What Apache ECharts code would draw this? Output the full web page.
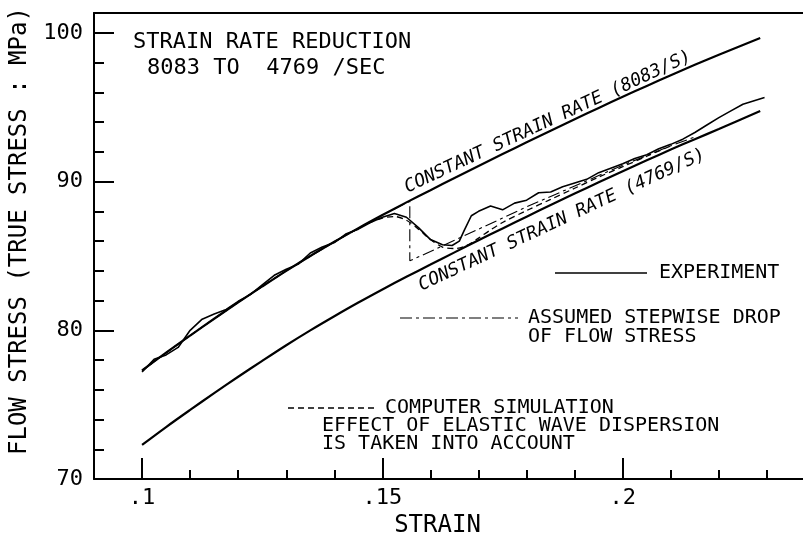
<!DOCTYPE html>
<html><head><meta charset="utf-8">
<script src="https://cdn.jsdelivr.net/npm/echarts@6/dist/echarts.min.js"></script>
<style>html,body{margin:0;padding:0;background:#fff}#c{width:803px;height:543px}</style>
</head><body><div id="c"></div>
<script>
// ---- data ----
const strainCurve = [0.100,0.105,0.110,0.115,0.120,0.125,0.130,0.135,0.140,0.145,0.150,0.155,0.160,0.165,0.170,0.175,0.180,0.185,0.190,0.195,0.200,0.205,0.210,0.215,0.220,0.2286];
const stressUpper = [77.3,78.5,79.65,80.78,81.88,82.95,84.0,85.0,85.95,86.87,87.75,88.6,89.42,90.24,91.05,91.85,92.64,93.42,94.19,94.95,95.7,96.43,97.15,97.85,98.53,99.65];
const stressLower = [72.3,73.5,74.65,75.78,76.88,77.95,79.0,80.0,80.95,81.87,82.75,83.6,84.42,85.24,86.05,86.85,87.64,88.42,89.19,89.95,90.7,91.43,92.15,92.85,93.53,94.75];

const strainExp = [0.1000,0.1025,0.1050,0.1075,0.1100,0.1125,0.1150,0.1175,0.1200,0.1225,0.1250,0.1275,0.1300,0.1325,0.1350,0.1375,0.1400,0.1425,0.1450,0.1475,0.1500,0.1525,0.1550,0.1575,0.1600,0.1625,0.1645,0.1660,0.1670,0.1685,0.1700,0.1725,0.1750,0.1775,0.1800,0.1825,0.1850,0.1875,0.1900,0.1925,0.1950,0.1975,0.2000,0.2025,0.2050,0.2075,0.2100,0.2125,0.2150,0.2175,0.2200,0.2225,0.2250,0.2275,0.2295];
const stressExp = [77.2,78.05,78.35,78.85,80.0,80.75,81.1,81.4,81.95,82.4,83.05,83.7,84.1,84.45,85.2,85.6,85.9,86.5,86.8,87.25,87.6,87.85,87.6,86.9,86.1,85.75,85.7,86.0,86.7,87.7,88.0,88.35,88.1,88.55,88.75,89.25,89.3,89.65,89.9,90.15,90.6,90.9,91.2,91.55,91.8,92.2,92.5,92.85,93.3,93.8,94.3,94.75,95.2,95.45,95.65];

const strainDrop = [0.100,0.110,0.120,0.130,0.140,0.150,0.1557,0.1557,0.160,0.165,0.170,0.175,0.180,0.185,0.190,0.195,0.200,0.205,0.210,0.215];
const stressDrop = [77.3,79.65,81.88,84.0,85.95,87.75,88.67,84.67,85.3,86.05,86.8,87.55,88.3,89.0,89.7,90.4,91.1,91.75,92.4,93.0];

const strainSim = [0.100,0.110,0.120,0.130,0.140,0.145,0.1475,0.150,0.1525,0.155,0.1575,0.160,0.1625,0.165,0.1675,0.170,0.1725,0.175,0.180,0.185,0.190,0.195,0.200,0.205,0.210];
const stressSim = [77.3,79.65,81.88,84.0,85.95,86.85,87.25,87.55,87.65,87.4,86.8,86.1,85.6,85.5,85.7,86.2,86.75,87.25,88.05,88.8,89.55,90.3,91.0,91.7,92.4];

const xMajorTicks = [0.1, 0.15, 0.2];
const xMajorLabels = ['.1', '.15', '.2'];
const xMinorTicks = [0.11,0.12,0.13,0.14,0.16,0.17,0.18,0.19,0.21,0.22,0.23];
const yMajorTicks = [70, 80, 90, 100];
const yMinorTicks = [72,74,76,78,82,84,86,88,92,94,96,98];

// ---- chart ----
const FONT = '"DejaVu Sans Mono", "Liberation Mono", monospace';
const XMIN = 0.09, XMAX = 0.2375, YMIN = 70, YMAX = 101.33;
const pairs = (xs, ys) => xs.map((x, i) => [x, ys[i]]);
const chart = echarts.init(document.getElementById('c'), null, {renderer: 'canvas'});

const baseAxis = {type: 'value', splitLine: {show: false}};
const lineSeries = (name, xs, ys, width, dash, smooth) => ({
  name, type: 'line', data: pairs(xs, ys), showSymbol: false, symbol: 'none',
  smooth: smooth || false, silent: true,
  lineStyle: {color: '#000', width, type: dash || 'solid'}
});

chart.setOption({
  animation: false,
  backgroundColor: '#fff',
  grid: {left: 91, right: 0, top: 13, bottom: 60},
  xAxis: [
    Object.assign({}, baseAxis, {
      min: XMIN, max: XMAX, position: 'bottom',
      axisLine: {show: true, lineStyle: {color: '#000', width: 2}},
      axisTick: {show: true, inside: true, length: 21, customValues: xMajorTicks, lineStyle: {color: '#000', width: 2}},
      axisLabel: {show: true, customValues: xMajorTicks, margin: 8, color: '#000', fontSize: 22, fontFamily: FONT,
        formatter: v => { const i = xMajorTicks.findIndex(t => Math.abs(t - v) < 1e-9); return i >= 0 ? xMajorLabels[i] : ''; }},
      name: 'STRAIN', nameLocation: 'middle', nameGap: 28,
      nameTextStyle: {color: '#000', fontSize: 24, fontFamily: FONT, padding: [0, 22, 0, 0]}
    }),
    Object.assign({}, baseAxis, {
      min: XMIN, max: XMAX, position: 'bottom',
      axisLine: {show: false},
      axisTick: {show: true, inside: true, length: 9, customValues: xMinorTicks, lineStyle: {color: '#000', width: 2}},
      axisLabel: {show: false}
    }),
    Object.assign({}, baseAxis, {
      min: XMIN, max: XMAX, position: 'top',
      axisLine: {show: true, lineStyle: {color: '#000', width: 2}},
      axisTick: {show: false}, axisLabel: {show: false}
    })
  ],
  yAxis: [
    Object.assign({}, baseAxis, {
      min: YMIN, max: YMAX, position: 'left',
      axisLine: {show: true, lineStyle: {color: '#000', width: 2}},
      axisTick: {show: true, inside: true, length: 20, customValues: yMajorTicks, lineStyle: {color: '#000', width: 2}},
      axisLabel: {show: true, customValues: yMajorTicks, margin: 11, color: '#000', fontSize: 22, fontFamily: FONT},
      name: 'FLOW STRESS (TRUE STRESS : MPa)', nameLocation: 'middle', nameGap: 62, nameRotate: 90,
      nameTextStyle: {color: '#000', fontSize: 24, fontFamily: FONT, padding: [0, 0, 0, 30]}
    }),
    Object.assign({}, baseAxis, {
      min: YMIN, max: YMAX, position: 'left',
      axisLine: {show: false},
      axisTick: {show: true, inside: true, length: 10, customValues: yMinorTicks, lineStyle: {color: '#000', width: 2}},
      axisLabel: {show: false}
    })
  ],
  series: [
    lineSeries('COMPUTER SIMULATION', strainSim, stressSim, 1.3, [6, 4], 0.3),
    lineSeries('ASSUMED STEPWISE DROP OF FLOW STRESS', strainDrop, stressDrop, 1.1, [12, 4, 3, 4], false),
    lineSeries('EXPERIMENT', strainExp, stressExp, 1.6, 'solid', false),
    lineSeries('CONSTANT STRAIN RATE (8083/S)', strainCurve, stressUpper, 2.2, 'solid', 0.3),
    lineSeries('CONSTANT STRAIN RATE (4769/S)', strainCurve, stressLower, 2.2, 'solid', 0.3)
  ],
  graphic: [
    {type: 'text', x: 133, y: 42, style: {text: 'STRAIN RATE REDUCTION', font: '22px ' + FONT, fill: '#000', align: 'left', verticalAlign: 'middle'}},
    {type: 'text', x: 147, y: 68, style: {text: '8083 TO  4769 /SEC', font: '22px ' + FONT, fill: '#000', align: 'left', verticalAlign: 'middle'}},
    {type: 'text', x: 548, y: 122, rotation: 25 * Math.PI / 180, style: {text: 'CONSTANT STRAIN RATE (8083/S)', font: 'italic 18px ' + FONT, fill: '#000', align: 'center', verticalAlign: 'middle'}},
    {type: 'text', x: 562, y: 220, rotation: 25 * Math.PI / 180, style: {text: 'CONSTANT STRAIN RATE (4769/S)', font: 'italic 18px ' + FONT, fill: '#000', align: 'center', verticalAlign: 'middle'}},

    {type: 'line', shape: {x1: 555, y1: 273, x2: 647, y2: 273}, style: {stroke: '#000', lineWidth: 1.6}},
    {type: 'text', x: 659, y: 273, style: {text: 'EXPERIMENT', font: '20px ' + FONT, fill: '#000', align: 'left', verticalAlign: 'middle'}},

    {type: 'line', shape: {x1: 400, y1: 318, x2: 518, y2: 318}, style: {stroke: '#000', lineWidth: 1.1, lineDash: [12, 4, 3, 4]}},
    {type: 'text', x: 528, y: 318, style: {text: 'ASSUMED STEPWISE DROP', font: '20px ' + FONT, fill: '#000', align: 'left', verticalAlign: 'middle'}},
    {type: 'text', x: 528, y: 337, style: {text: 'OF FLOW STRESS', font: '20px ' + FONT, fill: '#000', align: 'left', verticalAlign: 'middle'}},

    {type: 'line', shape: {x1: 288, y1: 408, x2: 375, y2: 408}, style: {stroke: '#000', lineWidth: 1.3, lineDash: [6, 4]}},
    {type: 'text', x: 385, y: 408, style: {text: 'COMPUTER SIMULATION', font: '20px ' + FONT, fill: '#000', align: 'left', verticalAlign: 'middle'}},
    {type: 'text', x: 322, y: 426, style: {text: 'EFFECT OF ELASTIC WAVE DISPERSION', font: '20px ' + FONT, fill: '#000', align: 'left', verticalAlign: 'middle'}},
    {type: 'text', x: 322, y: 444, style: {text: 'IS TAKEN INTO ACCOUNT', font: '20px ' + FONT, fill: '#000', align: 'left', verticalAlign: 'middle'}}
  ]
});
</script>
</body></html>
